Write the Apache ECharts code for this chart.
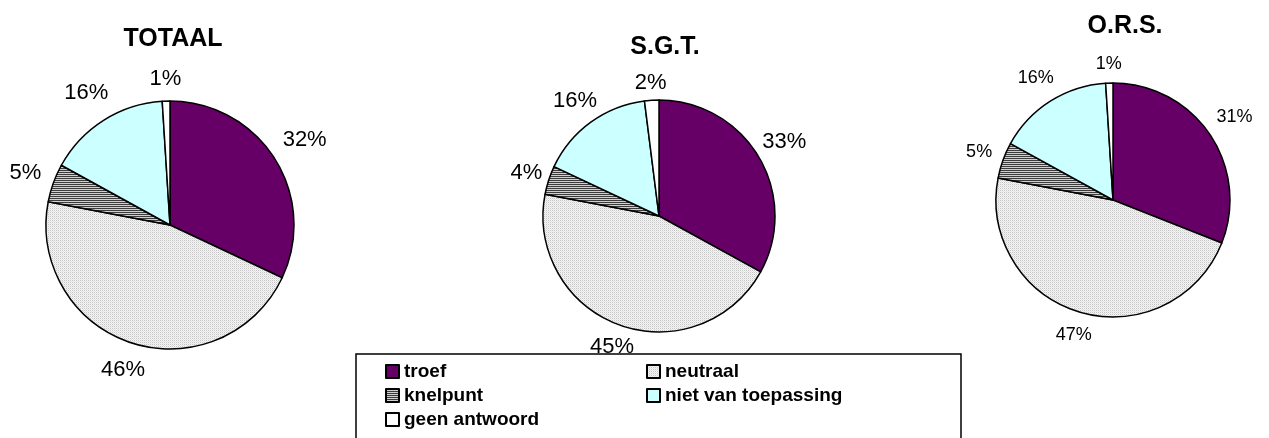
<!DOCTYPE html>
<html>
<head>
<meta charset="utf-8">
<title>Troef / knelpunt</title>
<script src="https://cdn.jsdelivr.net/npm/echarts@6/dist/echarts.min.js"></script>
<style>
  html, body { margin: 0; padding: 0; background: #fff; }
  #chart { width: 1269px; height: 438px; }
</style>
</head>
<body>
<div id="chart"></div>
<script>
// categories and values (percent)
const categories = ["troef", "neutraal", "knelpunt", "niet van toepassing", "geen antwoord"];
const titles = ["TOTAAL", "S.G.T.", "O.R.S."];
const totaal = [32, 46, 5, 16, 1];
const sgt = [33, 45, 4, 16, 2];
const ors = [31, 47, 5, 16, 1];

const FONT = "Liberation Sans, Arial, sans-serif";

// small canvas textures like the old office fills
function makePattern(w, h, draw) {
  const c = document.createElement("canvas");
  c.width = w;
  c.height = h;
  const ctx = c.getContext("2d");
  draw(ctx);
  return { image: c, repeat: "repeat" };
}

const dotted = makePattern(2, 2, (ctx) => {
  ctx.fillStyle = "#f6f6f6";
  ctx.fillRect(0, 0, 2, 2);
  ctx.fillStyle = "#c4c4c4";
  ctx.fillRect(0, 0, 1, 1);
  ctx.fillStyle = "#e2e2e2";
  ctx.fillRect(1, 1, 1, 1);
});

const striped = makePattern(2, 2, (ctx) => {
  ctx.fillStyle = "#cfcfcf";
  ctx.fillRect(0, 0, 2, 2);
  ctx.fillStyle = "#3c3c3c";
  ctx.fillRect(0, 0, 2, 1);
});

const fills = ["#660066", dotted, striped, "#ccffff", "#ffffff"];

function pieSeries(name, values, center, radius, fontSize, gap) {
  const total = values.reduce((a, b) => a + b, 0);
  // label centred on the slice's middle ray, just outside the rim (Excel style)
  const labelLayout = (params) => {
    let before = 0;
    for (let i = 0; i < params.dataIndex; i++) before += values[i];
    const mid = ((90 - ((before + values[params.dataIndex] / 2) / total) * 360) * Math.PI) / 180;
    const ux = Math.cos(mid);
    const uy = -Math.sin(mid);
    const w = params.labelRect.width;
    const h = params.labelRect.height;
    const d = radius + gap + Math.abs(ux) * w / 2 + Math.abs(uy) * h / 2;
    return {
      x: center[0] + ux * d,
      y: center[1] + uy * d,
      align: "center",
      verticalAlign: "middle",
    };
  };
  return {
    name: name,
    type: "pie",
    center: center,
    radius: radius,
    startAngle: 90,
    clockwise: true,
    animation: false,
    silent: true,
    avoidLabelOverlap: false,
    label: {
      show: true,
      position: "outside",
      formatter: "{c}%",
      color: "#000",
      fontFamily: FONT,
      fontSize: fontSize,
      overflow: "none",
    },
    labelLine: { show: false, length: 0, length2: 0 },
    labelLayout: labelLayout,
    itemStyle: { borderColor: "#000", borderWidth: 1.5 },
    data: categories.map((v, i) => ({
      name: v,
      value: values[i],
      itemStyle: { color: fills[i] },
    })),
  };
}

const legendText = {
  color: "#000",
  fontFamily: FONT,
  fontWeight: "bold",
  fontSize: 19,
};

const chart = echarts.init(document.getElementById("chart"));
chart.setOption({
  backgroundColor: "#fff",
  title: [
    { text: titles[0], left: 168, top: 22, textAlign: "center" },
    { text: titles[1], left: 660, top: 30, textAlign: "center" },
    { text: titles[2], left: 1120, top: 9, textAlign: "center" },
  ].map((t) => ({
    ...t,
    textStyle: {
      fontFamily: FONT,
      fontWeight: "bold",
      fontSize: 25,
      color: "#000",
    },
  })),
  legend: [
    {
      data: [categories[0], categories[2], categories[4]],
      orient: "vertical",
      left: 380,
      top: 357,
      itemGap: 5,
      itemWidth: 13,
      itemHeight: 13,
      icon: "rect",
      textStyle: legendText,
      selectedMode: false,
    },
    {
      data: [categories[1], categories[3]],
      orient: "vertical",
      left: 641,
      top: 357,
      itemGap: 5,
      itemWidth: 13,
      itemHeight: 13,
      icon: "rect",
      textStyle: legendText,
      selectedMode: false,
    },
  ],
  graphic: [
    {
      type: "rect",
      shape: { x: 356, y: 354, width: 605, height: 100 },
      style: { fill: "none", stroke: "#000", lineWidth: 1.5 },
      z: -1,
    },
  ],
  series: [
    pieSeries(titles[0], totaal, [170, 225], 124, 22, 11),
    pieSeries(titles[1], sgt, [659, 216], 116, 22, 5),
    pieSeries(titles[2], ors, [1113, 200], 117, 18, 10),
  ],
});
</script>
</body>
</html>
